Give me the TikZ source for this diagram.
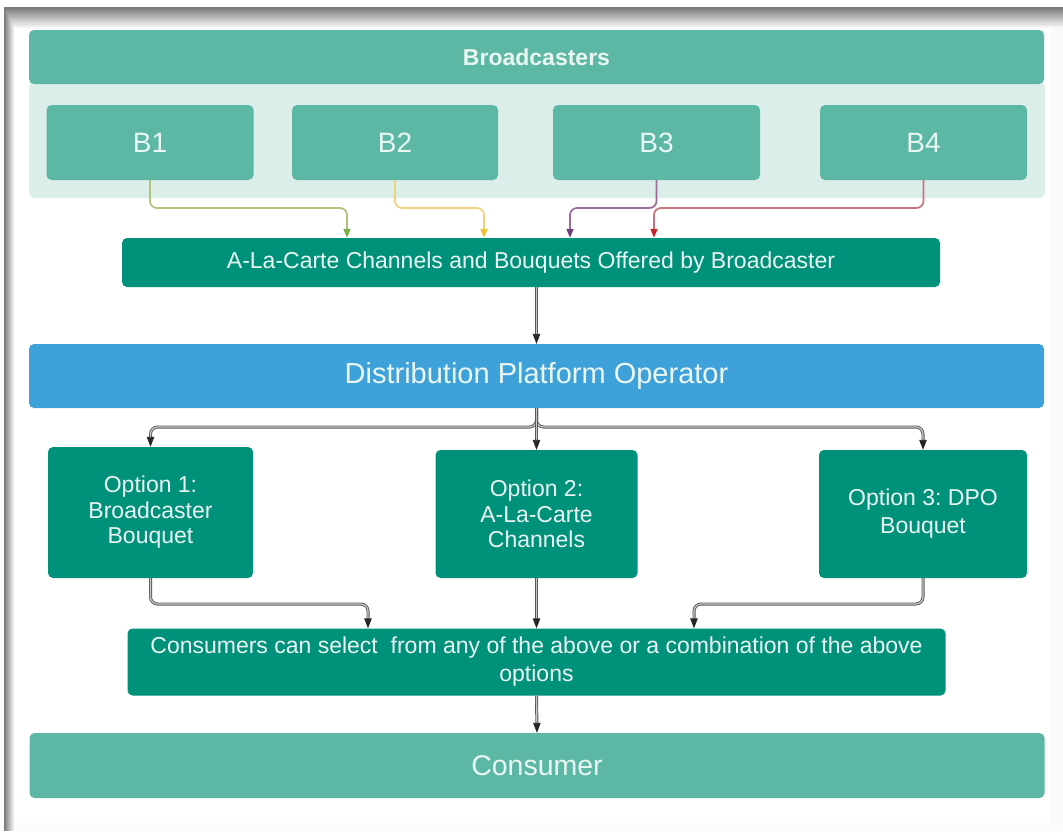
\documentclass[tikz,border=0pt]{standalone}
\usepackage{fontspec}
\setmainfont{Liberation Sans}
\usetikzlibrary{arrows.meta}
\frenchspacing

\definecolor{midteal}{HTML}{5CB8A5}
\definecolor{paleteal}{HTML}{DCEEEA}
\definecolor{darkteal}{HTML}{00917B}
\definecolor{dpoblue}{HTML}{3FA1DA}
\definecolor{boxtext}{HTML}{EAF6F2}
\definecolor{lineone}{HTML}{B3C27C}
\definecolor{headone}{HTML}{7EAE44}
\definecolor{linetwo}{HTML}{EFD27A}
\definecolor{headtwo}{HTML}{F0C030}
\definecolor{linethree}{HTML}{9C6B98}
\definecolor{headthree}{HTML}{6F3D78}
\definecolor{linefour}{HTML}{C9737F}
\definecolor{headfour}{HTML}{C1272D}

\begin{document}
\begin{tikzpicture}[x=1pt,y=-1pt,
	box/.style={rounded corners=5pt, inner sep=0pt, text=boxtext, align=center},
	lightbox/.style={box, fill=midteal},
	darkbox/.style={box, fill=darkteal},
	feed/.style={line width=1.7pt, rounded corners=7pt},
	link/.style={draw=black!65, double=black!22, double distance=1.2pt, line width=0.9pt,
		rounded corners=7pt, -{Triangle[length=10pt,width=7.5pt,color=black!85]}}
	]
	\useasboundingbox (0,0) rectangle (1063,831);
	
	% page with its shadow
	\fill[white] (0,0) rectangle (1063,831);
	\foreach \k [evaluate=\k as \tone using int(52-5*\k)] in {0,...,10}{
		\fill[black!\tone] ({4+\k},{7+2*\k}) rectangle (1063,831);
	}
	\fill[white] (15,29) rectangle (1051,823);
	
	\node (panel) [box, fill=paleteal, minimum width=1016pt, minimum height=116pt] at (537,140) {};
	\node (hdr) [lightbox, minimum width=1015pt, minimum height=54pt,
		font=\fontsize{23}{25}\selectfont\bfseries] at (536.5,57) {Broadcasters};
	
	\node (b1) [lightbox, minimum width=207pt, minimum height=75pt, font=\fontsize{28}{30}\selectfont] at (150,142.5) {B1};
	\node (b2) [lightbox, minimum width=206pt, minimum height=75pt, font=\fontsize{28}{30}\selectfont] at (395,142.5) {B2};
	\node (b3) [lightbox, minimum width=207pt, minimum height=75pt, font=\fontsize{28}{30}\selectfont] at (656.5,142.5) {B3};
	\node (b4) [lightbox, minimum width=207pt, minimum height=75pt, font=\fontsize{28}{30}\selectfont] at (923.5,142.5) {B4};
	
	\node (alc) [darkbox, minimum width=818pt, minimum height=49pt, font=\fontsize{23}{25}\selectfont] at (531,262.5)
		{A-La-Carte Channels and Bouquets Offered by Broadcaster};
	
	\node (dpo) [box, fill=dpoblue, minimum width=1015pt, minimum height=64pt, font=\fontsize{29}{31}\selectfont] at (536.5,376)
		{Distribution Platform Operator};
	
	\node (opt1) [darkbox, minimum width=205pt, minimum height=131pt, font=\fontsize{23}{25.5}\selectfont] at (150.5,512.5)
		{Option 1:\\Broadcaster\\Bouquet};
	\node (opt2) [darkbox, minimum width=202pt, minimum height=128pt, font=\fontsize{23}{25.5}\selectfont] at (536.5,514)
		{Option 2:\\A-La-Carte\\Channels};
	\node (opt3) [darkbox, minimum width=208pt, minimum height=128pt, font=\fontsize{23}{28}\selectfont] at (923,514)
		{Option 3: DPO\\Bouquet};
	
	\node (sel) [darkbox, minimum width=818pt, minimum height=67pt, font=\fontsize{23}{28}\selectfont] at (536.5,662)
		{Consumers can select\ \ from any of the above or a combination of the above\\options};
	
	\node (cons) [lightbox, minimum width=1015pt, minimum height=65pt, font=\fontsize{28.5}{30}\selectfont] at (537,765.5)
		{Consumer};
	
	% broadcaster feeds
	\coordinate (k1) at (347,208);
	\coordinate (k2) at (484,208);
	\coordinate (k3) at (570,208);
	\coordinate (k4) at (654,208);
	\draw[feed, draw=lineone, -{Triangle[length=9pt,width=7pt,color=headone]}] (b1.south) |- (k1) -- (k1 |- alc.north);
	\draw[feed, draw=linetwo, -{Triangle[length=9pt,width=7pt,color=headtwo]}] (b2.south) |- (k2) -- (k2 |- alc.north);
	\draw[feed, draw=linethree, -{Triangle[length=9pt,width=7pt,color=headthree]}] (b3.south) |- (k3) -- (k3 |- alc.north);
	\draw[feed, draw=linefour, -{Triangle[length=9pt,width=7pt,color=headfour]}] (b4.south) |- (k4) -- (k4 |- alc.north);
	
	\draw[link] (alc.south -| dpo.north) -- (dpo.north);
	
	% the three options
	\coordinate (split) at (536.5,427);
	\draw[link] (dpo.south) -- (split) -| (opt1.north);
	\draw[link] (dpo.south) -- (split) -| (opt3.north);
	\draw[link] (dpo.south) -- (opt2.north);
	
	\coordinate (m1) at (368,604);
	\coordinate (m3) at (694,604);
	\draw[link] (opt1.south) |- (m1) -- (m1 |- sel.north);
	\draw[link] (opt2.south) -- (sel.north);
	\draw[link] (opt3.south) |- (m3) -- (m3 |- sel.north);
	
	\draw[link] (sel.south) -- (cons.north);
	
\end{tikzpicture}
\end{document}
